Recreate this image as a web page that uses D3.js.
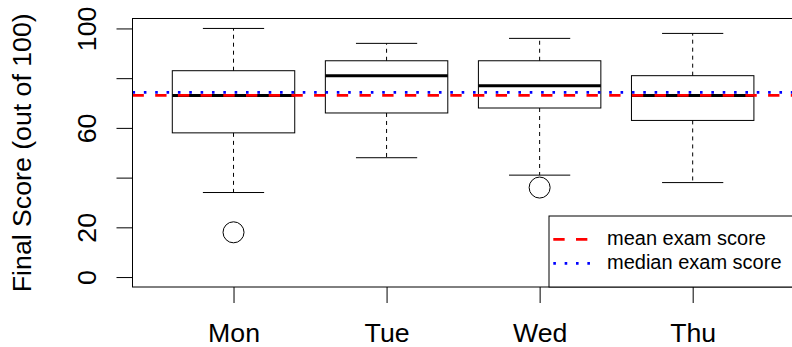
<!DOCTYPE html>
<html>
<head>
<meta charset="utf-8">
<script src="https://cdn.jsdelivr.net/npm/d3@7"></script>
<style>
  body { margin: 0; background: #fff; }
  svg { display: block; font-family: "Liberation Sans", Arial, Helvetica, sans-serif; }
</style>
</head>
<body>
<script>
// exam scores by weekday
var days = ['Mon', 'Tue', 'Wed', 'Thu']
var whiskerLow = [34, 48, 41, 38]
var q1 = [58, 66, 68, 63]
var medians = [73, 81, 77, 73]
var q3 = [83, 87, 87, 81]
var whiskerHigh = [100, 94, 96, 98]
var outliers = [[18], [], [36], []]
var meanScore = 73.1
var medianScore = 74.3
var yTicks = [0, 20, 40, 60, 80, 100]
var yTickLabels = ['0', '20', '', '60', '', '100']
var legendLabels = ['mean exam score', 'median exam score']

var width = 792
var height = 347
var plot = { left: 132.5, right: 793.7, top: 18.5, bottom: 287 }
var boxWidth = 0.8
var capWidth = 0.4

var svg = d3.select('body').append('svg')
  .attr('width', width)
  .attr('height', height)

var x = d3.scaleLinear()
  .domain([0.34, 4.66])
  .range([plot.left, plot.right])

var y = d3.scaleLinear()
  .domain([-4, 104])
  .range([plot.bottom, plot.top])

svg.append('defs').append('clipPath')
  .attr('id', 'plotClip')
  .append('rect')
  .attr('x', plot.left)
  .attr('y', plot.top)
  .attr('width', plot.right - plot.left)
  .attr('height', plot.bottom - plot.top)

var stats = days.map(function (d, i) {
  return { day: d, pos: i + 1, lo: whiskerLow[i], q1: q1[i], med: medians[i], q3: q3[i], hi: whiskerHigh[i], out: outliers[i] }
})

var boxes = svg.append('g').selectAll('g')
  .data(stats)
  .enter().append('g')

// whiskers (dashed), from the quartiles outward
boxes.append('line')
  .attr('x1', d => x(d.pos)).attr('x2', d => x(d.pos))
  .attr('y1', d => y(d.q3)).attr('y2', d => y(d.hi))
  .attr('stroke', '#000').attr('stroke-dasharray', '4,4')
boxes.append('line')
  .attr('x1', d => x(d.pos)).attr('x2', d => x(d.pos))
  .attr('y1', d => y(d.q1)).attr('y2', d => y(d.lo))
  .attr('stroke', '#000').attr('stroke-dasharray', '4,4')

// caps
boxes.selectAll('line.cap')
  .data(d => [{ pos: d.pos, v: d.hi }, { pos: d.pos, v: d.lo }])
  .enter().append('line')
  .attr('class', 'cap')
  .attr('x1', d => x(d.pos - capWidth / 2)).attr('x2', d => x(d.pos + capWidth / 2))
  .attr('y1', d => y(d.v)).attr('y2', d => y(d.v))
  .attr('stroke', '#000')

boxes.append('rect')
  .attr('x', d => x(d.pos - boxWidth / 2))
  .attr('width', d => x(d.pos + boxWidth / 2) - x(d.pos - boxWidth / 2))
  .attr('y', d => y(d.q3))
  .attr('height', d => y(d.q1) - y(d.q3))
  .attr('fill', 'none')
  .attr('stroke', '#000')

boxes.append('line')
  .attr('x1', d => x(d.pos - boxWidth / 2)).attr('x2', d => x(d.pos + boxWidth / 2))
  .attr('y1', d => y(d.med)).attr('y2', d => y(d.med))
  .attr('stroke', '#000').attr('stroke-width', 3)

boxes.selectAll('circle')
  .data(d => d.out.map(v => ({ pos: d.pos, v: v })))
  .enter().append('circle')
  .attr('cx', d => x(d.pos))
  .attr('cy', d => y(d.v))
  .attr('r', 10.5)
  .attr('fill', 'none')
  .attr('stroke', '#000')

// reference lines
var refs = svg.append('g').attr('clip-path', 'url(#plotClip)')
refs.append('line')
  .attr('x1', plot.left).attr('x2', plot.right)
  .attr('y1', y(meanScore)).attr('y2', y(meanScore))
  .attr('stroke', '#ff0000').attr('stroke-width', 2.8)
  .attr('stroke-dasharray', '11.35,11.35')
refs.append('line')
  .attr('x1', plot.left).attr('x2', plot.right)
  .attr('y1', y(medianScore)).attr('y2', y(medianScore))
  .attr('stroke', '#0000ff').attr('stroke-width', 2.8)
  .attr('stroke-dasharray', '2.6,8.75')

// plot frame
svg.append('rect')
  .attr('x', plot.left).attr('y', plot.top)
  .attr('width', plot.right - plot.left)
  .attr('height', plot.bottom - plot.top)
  .attr('fill', 'none').attr('stroke', '#000')

// axes
var yAxis = svg.append('g')
  .attr('transform', 'translate(' + plot.left + ',0)')
  .call(d3.axisLeft(y).tickValues(yTicks).tickSize(16).tickSizeOuter(0)
    .tickFormat((d, i) => yTickLabels[i]))
yAxis.select('.domain').remove()
yAxis.selectAll('text')
  .attr('x', 0).attr('dy', null)
  .attr('y', -37)
  .attr('transform', 'rotate(-90)')
  .attr('text-anchor', 'middle')
  .style('font-size', '26.7px')
  .style('font-family', '"Liberation Sans", Arial, sans-serif')
  .attr('fill', '#000')

var xAxis = svg.append('g')
  .attr('transform', 'translate(0,' + plot.bottom + ')')
  .call(d3.axisBottom(x).tickValues(stats.map(d => d.pos)).tickSize(16).tickSizeOuter(0)
    .tickFormat((d, i) => days[i]))
xAxis.select('.domain').remove()
xAxis.selectAll('text')
  .attr('y', 54.5).attr('dy', null)
  .style('font-size', '26.7px')
  .style('font-family', '"Liberation Sans", Arial, sans-serif')
  .attr('fill', '#000')

svg.append('text')
  .attr('transform', 'translate(31,' + ((plot.top + plot.bottom) / 2) + ') rotate(-90)')
  .attr('text-anchor', 'middle')
  .style('font-size', '26.7px')
  .text('Final Score (out of 100)')

// legend, bottom right
var legend = svg.append('g')
legend.append('rect')
  .attr('x', 549).attr('y', 216)
  .attr('width', plot.right - 549).attr('height', plot.bottom - 216)
  .attr('fill', '#fff').attr('stroke', '#000')

var legendItems = [
  { label: legendLabels[0], color: '#ff0000', dash: '11.35,11.35', w: 2.8, cy: 239.3 },
  { label: legendLabels[1], color: '#0000ff', dash: '2.6,8.75', w: 2.8, cy: 263.3 }
]
var rows = legend.selectAll('g.row')
  .data(legendItems)
  .enter().append('g').attr('class', 'row')
rows.append('line')
  .attr('x1', 553.3).attr('x2', 590)
  .attr('y1', d => d.cy).attr('y2', d => d.cy)
  .attr('stroke', d => d.color)
  .attr('stroke-width', d => d.w)
  .attr('stroke-dasharray', d => d.dash)
rows.append('text')
  .attr('x', 607)
  .attr('y', d => d.cy + 6)
  .style('font-size', '20px')
  .text(d => d.label)
</script>
</body>
</html>
